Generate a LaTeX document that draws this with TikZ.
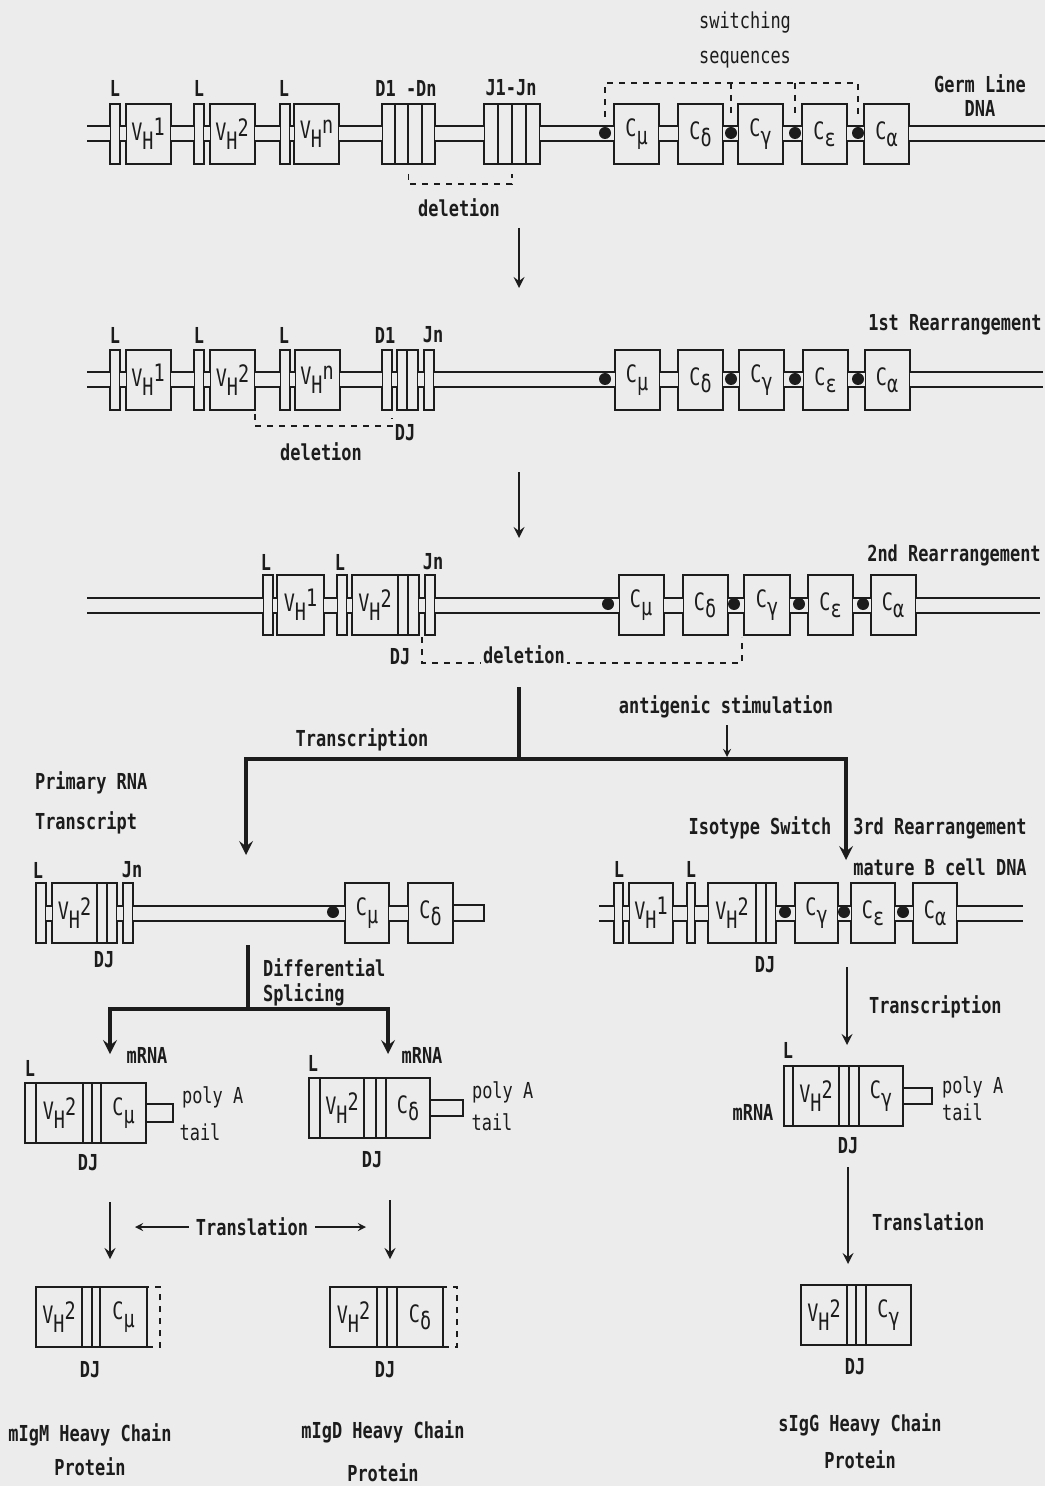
\documentclass[tikz,border=0pt]{standalone}
\usepackage{fontspec}
\setmainfont{DejaVu Sans Mono}[FakeStretch=0.77]
\usetikzlibrary{positioning}
\definecolor{paper}{HTML}{ECECEC}
\definecolor{ink}{HTML}{1C1C1C}
\newcommand{\vh}[1]{V\raisebox{-.7ex}{H}\raisebox{.35ex}{#1}}
\newcommand{\cs}[1]{C\raisebox{-.55ex}{#1}}

\begin{document}
\begin{tikzpicture}[
        x=0.5pt, y=-0.5pt,
        font=\fontsize{11}{12}\selectfont,
        seg/.style={draw=ink, text=ink, font=\fontsize{12}{13}\selectfont, line width=1pt, rectangle, inner sep=0pt, outer sep=0pt, minimum height=30pt, fill=paper},
        slab/.style={seg, minimum width=5pt},
        gene/.style={seg, minimum width=22.5pt},
        tail/.style={seg, minimum height=8pt},
        ext/.style={draw=ink, dashed, line width=1pt, inner sep=0pt, outer sep=0pt, minimum height=30pt},
        dna/.style={draw=ink, line width=1pt, double=paper, double distance=6.5pt},
        sw/.style={circle, fill=ink, inner sep=0pt, minimum size=6pt},
        brk/.style={draw=ink, dashed, line width=0.8pt},
        lab/.style={text=ink, font=\fontsize{11}{12}\selectfont\bfseries},
        txt/.style={text=ink},
        arrow/.style={-stealth, draw=ink, line width=1.4pt},
        branch/.style={draw=ink, line width=2pt},
        thinarrow/.style={-stealth, draw=ink, line width=0.8pt}
    ]
    \path[use as bounding box, fill=paper] (0,0) rectangle (1045,1486);

    % Germ line DNA
    \coordinate (g0) at (87,134);
    \node[slab] (gl1) at (115,134) {};
    \node[gene] (gv1) at (148,134) {\vh{1}};
    \node[slab] (gl2) at (199,134) {};
    \node[gene] (gv2) at (232,134) {\vh{2}};
    \node[slab] (gl3) at (284.5,134) {};
    \node[gene] (gvn) at (316.5,134) {\vh{n}};
    \node[seg, minimum width=6.6pt] (gd1) at (388.6,134) {};
    \node[seg, minimum width=6.6pt, right=0pt of gd1] (gd2) {};
    \node[seg, minimum width=6.6pt, right=0pt of gd2] (gd3) {};
    \node[seg, minimum width=6.6pt, right=0pt of gd3] (gd4) {};
    \node[seg, minimum width=7pt] (gj1) at (491,134) {};
    \node[seg, minimum width=7pt, right=0pt of gj1] (gj2) {};
    \node[seg, minimum width=7pt, right=0pt of gj2] (gj3) {};
    \node[seg, minimum width=7pt, right=0pt of gj3] (gj4) {};
    \node[gene] (gcm) at (636.5,134) {\cs{μ}};
    \node[gene] (gcd) at (700.5,134) {\cs{δ}};
    \node[gene] (gcg) at (760.5,134) {\cs{γ}};
    \node[gene] (gce) at (824.5,134) {\cs{ε}};
    \node[gene] (gca) at (886.5,134) {\cs{α}};
    \coordinate (g9) at (1045,134);
    \draw[dna] (g0) -- (gl1) (gl1) -- (gv1) (gv1) -- (gl2) (gl2) -- (gv2) (gv2) -- (gl3) (gl3) -- (gvn) (gvn) -- (gd1)
        (gd4) -- (gj1) (gj4) -- (gcm) (gcm) -- (gcd) (gcd) -- (gcg) (gcg) -- (gce) (gce) -- (gca) (gca) -- (g9);
    \node[sw] (gs1) at (605,133) {};
    \node[sw] (gs2) at (731,133) {};
    \node[sw] (gs3) at (795,133) {};
    \node[sw] (gs4) at (858,133) {};

    \node[lab] (gtl1) at (115,88) {L};
    \node[lab] (gtl2) at (199,88) {L};
    \node[lab] (gtl3) at (284,88) {L};
    \node[lab] (gtd) at (406,88) {D1 -Dn};
    \node[lab] (gtj) at (511,88) {J1-Jn};
    \node[txt, align=center, font=\fontsize{11}{17.5}\selectfont] (gsw) at (745,40) {switching\\sequences};
    \node[lab, align=center] (gtg) at (980,96) {Germ Line\\DNA};
    \draw[brk] ([yshift=8pt]gs1.center) -- ([yshift=25pt]gs1.center) -| ([yshift=8pt]gs4.center);
    \draw[brk] ([yshift=25pt]gs2.center) -- ([yshift=8pt]gs2.center);
    \draw[brk] ([yshift=25pt]gs3.center) -- ([yshift=8pt]gs3.center);
    \draw[brk] ([yshift=-5pt]gd2.south east) -- ([yshift=-10pt]gd2.south east) -| ([yshift=-5pt]gj2.south east);
    \node[lab] (gdel) at (459,208) {deletion};

    \coordinate (a1s) at (519,228);
    \coordinate (a1e) at (519,288);
    \draw[arrow] (a1s) -- (a1e);

    % 1st rearrangement
    \coordinate (r0) at (87,380);
    \node[slab] (rl1) at (115,380) {};
    \node[gene] (rv1) at (148,380) {\vh{1}};
    \node[slab] (rl2) at (199,380) {};
    \node[gene] (rv2) at (232.5,380) {\vh{2}};
    \node[slab] (rl3) at (284.5,380) {};
    \node[gene] (rvn) at (317,380) {\vh{n}};
    \node[slab] (rd1) at (387,380) {};
    \node[slab] (rdj1) at (402,380) {};
    \node[seg, minimum width=5.5pt, right=0pt of rdj1] (rdj2) {};
    \node[slab] (rjn) at (428.5,380) {};
    \node[gene] (rcm) at (637,380) {\cs{μ}};
    \node[gene] (rcd) at (700.5,380) {\cs{δ}};
    \node[gene] (rcg) at (761.5,380) {\cs{γ}};
    \node[gene] (rce) at (825.5,380) {\cs{ε}};
    \node[gene] (rca) at (887,380) {\cs{α}};
    \coordinate (r9) at (1043,380);
    \draw[dna] (r0) -- (rl1) (rl1) -- (rv1) (rv1) -- (rl2) (rl2) -- (rv2) (rv2) -- (rl3) (rl3) -- (rvn) (rvn) -- (rd1)
        (rd1) -- (rdj1) (rdj2) -- (rjn) (rjn) -- (rcm) (rcm) -- (rcd) (rcd) -- (rcg) (rcg) -- (rce) (rce) -- (rca) (rca) -- (r9);
    \node[sw] (rs1) at (605,379) {};
    \node[sw] (rs2) at (731,379) {};
    \node[sw] (rs3) at (795,379) {};
    \node[sw] (rs4) at (858,379) {};

    \node[lab] (rtl1) at (115,335) {L};
    \node[lab] (rtl2) at (199,335) {L};
    \node[lab] (rtl3) at (284,335) {L};
    \node[lab] (rtd) at (385,335) {D1};
    \node[lab] (rtj) at (433,335) {Jn};
    \node[lab] (rtdj) at (405,433) {DJ};
    \node[lab] (rtr) at (955,325) {1st Rearrangement};
    \draw[brk] ([yshift=-2pt]rv2.south east) -- ([yshift=-8pt]rv2.south east) -| ([yshift=-4pt]rd1.south east);
    \node[lab] (rdel) at (321,452) {deletion};

    \coordinate (a2s) at (519,472);
    \coordinate (a2e) at (519,538);
    \draw[arrow] (a2s) -- (a2e);

    % 2nd rearrangement
    \coordinate (s0) at (87,605);
    \node[slab] (sl1) at (268,605) {};
    \node[seg, minimum width=23.5pt] (sv1) at (300.5,605) {\vh{1}};
    \node[slab] (sl2) at (342,605) {};
    \node[seg, minimum width=23pt] (sv2) at (375,605) {\vh{2}};
    \node[slab, right=0pt of sv2] (sd) {};
    \node[seg, minimum width=5.5pt, right=0pt of sd] (sj) {};
    \node[slab] (sjn) at (430,605) {};
    \node[gene] (scm) at (641,605) {\cs{μ}};
    \node[gene] (scd) at (705,605) {\cs{δ}};
    \node[seg, minimum width=23pt] (scg) at (767,605) {\cs{γ}};
    \node[gene] (sce) at (830.5,605) {\cs{ε}};
    \node[gene] (sca) at (893,605) {\cs{α}};
    \coordinate (s9) at (1040,605);
    \draw[dna] (s0) -- (sl1) (sl1) -- (sv1) (sv1) -- (sl2) (sl2) -- (sv2) (sj) -- (sjn) (sjn) -- (scm)
        (scm) -- (scd) (scd) -- (scg) (scg) -- (sce) (sce) -- (sca) (sca) -- (s9);
    \node[sw] (ss1) at (608,604) {};
    \node[sw] (ss2) at (734,604) {};
    \node[sw] (ss3) at (799,604) {};
    \node[sw] (ss4) at (863,604) {};

    \node[lab] (stl1) at (266,562) {L};
    \node[lab] (stl2) at (340,562) {L};
    \node[lab] (stj) at (433,562) {Jn};
    \node[lab] (stdj) at (400,657) {DJ};
    \node[lab] (str) at (954,555) {2nd Rearrangement};
    \draw[brk] ([xshift=1.5pt,yshift=-1pt]sj.south east) -- ([xshift=1.5pt,yshift=-14pt]sj.south east) -| ([xshift=-1pt,yshift=-1pt]scg.south west);
    \node[lab, fill=paper, inner sep=1pt] (sdel) at (524,655) {deletion};

    % Transcription / isotype switch
    \coordinate (b0) at (519,687);
    \coordinate (bm) at (519,759);
    \coordinate (bl) at (246,855);
    \coordinate (br) at (846,860);
    \draw[branch] (b0) -- (bm);
    \draw[branch, -stealth] (bm) -| (bl);
    \draw[branch, -stealth] (bm) -| (br);
    \node[lab] (btr) at (362,740) {Transcription};
    \node[lab] (bag) at (726,707) {antigenic stimulation};
    \coordinate (bage) at (727,757);
    \draw[thinarrow] (bag.south -| bage) -- (bage);

    % Primary RNA transcript
    \node[lab, anchor=west, align=left, font=\fontsize{11}{20}\selectfont\bfseries] (ptt) at (28,803) {Primary RNA\\Transcript};
    \node[slab] (pl) at (41,913) {};
    \node[gene] (pv) at (74.5,913) {\vh{2}};
    \node[slab, right=0pt of pv] (pd) {};
    \node[slab, right=0pt of pd] (pj) {};
    \node[slab] (pjn) at (128,913) {};
    \node[seg, minimum width=22pt] (pcm) at (367,913) {\cs{μ}};
    \node[gene] (pcd) at (430.5,913) {\cs{δ}};
    \node[tail, minimum width=15.5pt, right=0pt of pcd] (ptl) {};
    \draw[dna] (pl) -- (pv) (pj) -- (pjn) (pjn) -- (pcm) (pcm) -- (pcd);
    \node[sw] (ps1) at (333,912) {};
    \node[lab] (ptl1) at (38,870) {L};
    \node[lab] (ptj) at (132,870) {Jn};
    \node[lab] (ptdj) at (104,960) {DJ};

    % Differential splicing
    \coordinate (d0) at (248,945);
    \coordinate (dm) at (248,1009);
    \coordinate (dl) at (110,1054);
    \coordinate (dr) at (388,1054);
    \draw[branch] (d0) -- (dm);
    \draw[branch, -stealth] (dm) -| (dl);
    \draw[branch, -stealth] (dm) -| (dr);
    \node[lab, anchor=west, align=left, font=\fontsize{11}{12.5}\selectfont\bfseries] (dsp) at (256,982) {Differential\\Splicing};
    \node[lab] (dml) at (147,1055) {mRNA};
    \node[lab] (dmr) at (422,1055) {mRNA};

    % mRNA (mu)
    \node[seg, minimum width=5.5pt] (ml) at (30.5,1113) {};
    \node[seg, minimum width=23.5pt, right=0pt of ml] (mv) {\vh{2}};
    \node[seg, minimum width=4.5pt, right=0pt of mv] (md) {};
    \node[seg, minimum width=4.5pt, right=0pt of md] (mj) {};
    \node[gene, right=0pt of mj] (mc) {\cs{μ}};
    \node[tail, minimum width=13.5pt, minimum height=9pt, right=0pt of mc] (mt) {};
    \node[lab] (mtl) at (30,1068) {L};
    \node[txt, anchor=west] (mpa) at (175,1097) {poly A};
    \node[txt] (mta) at (200,1132) {tail};
    \node[lab] (mdj) at (88,1163) {DJ};

    % mRNA (delta)
    \node[seg, minimum width=5.5pt] (nl) at (314.5,1108) {};
    \node[seg, minimum width=22pt, right=0pt of nl] (nv) {\vh{2}};
    \node[seg, minimum width=6pt, right=0pt of nv] (nd) {};
    \node[slab, right=0pt of nd] (nj) {};
    \node[seg, minimum width=22pt, right=0pt of nj] (nc) {\cs{δ}};
    \node[tail, minimum width=16.5pt, right=0pt of nc] (nt) {};
    \node[lab] (ntl) at (313,1063) {L};
    \node[txt, anchor=west] (npa) at (465,1092) {poly A};
    \node[txt] (nta) at (492,1122) {tail};
    \node[lab] (ndj) at (372,1160) {DJ};

    % Translation (membrane forms)
    \coordinate (t1s) at (110,1202);
    \coordinate (t1e) at (110,1259);
    \coordinate (t2s) at (390,1200);
    \coordinate (t2e) at (390,1259);
    \draw[arrow] (t1s) -- (t1e);
    \draw[arrow] (t2s) -- (t2e);
    \node[lab] (ttr) at (252,1227) {Translation};
    \coordinate (tla) at (135,1227);
    \coordinate (tra) at (366,1227);
    \draw[thinarrow] (ttr.west) -- (tla);
    \draw[thinarrow] (ttr.east) -- (tra);

    % mIgM protein
    \node[seg, minimum width=23pt] (qv) at (59,1317) {\vh{2}};
    \node[slab, right=0pt of qv] (qd) {};
    \node[seg, minimum width=4pt, right=0pt of qd] (qj) {};
    \node[seg, minimum width=23.5pt, right=0pt of qj] (qc) {\cs{μ}};
    \node[ext, minimum width=6.5pt, right=0pt of qc] (qx) {};
    \node[lab] (qdj) at (90,1370) {DJ};
    \node[lab, align=center, font=\fontsize{11}{17}\selectfont\bfseries] (qtt) at (90,1450) {mIgM Heavy Chain\\Protein};

    % mIgD protein
    \node[seg, minimum width=23.5pt] (ov) at (353.5,1317) {\vh{2}};
    \node[slab, right=0pt of ov] (od) {};
    \node[slab, right=0pt of od] (oj) {};
    \node[seg, minimum width=23pt, right=0pt of oj] (oc) {\cs{δ}};
    \node[ext, minimum width=7pt, right=0pt of oc] (ox) {};
    \node[lab] (odj) at (385,1370) {DJ};
    \node[lab, align=center, font=\fontsize{11}{21.5}\selectfont\bfseries] (ott) at (383,1451) {mIgD Heavy Chain\\Protein};

    % Mature B cell DNA
    \coordinate (h0) at (599,913);
    \node[seg, minimum width=4.5pt] (hl1) at (618.5,913) {};
    \node[seg, minimum width=22pt] (hv1) at (651,913) {\vh{1}};
    \node[seg, minimum width=4pt] (hl2) at (691,913) {};
    \node[seg, minimum width=24pt] (hv2) at (732,913) {\vh{2}};
    \node[slab, right=0pt of hv2] (hd) {};
    \node[slab, right=0pt of hd] (hj) {};
    \node[seg, minimum width=21.5pt] (hcg) at (816.5,913) {\cs{γ}};
    \node[seg, minimum width=22pt] (hce) at (873,913) {\cs{ε}};
    \node[seg, minimum width=22pt] (hca) at (935,913) {\cs{α}};
    \coordinate (h9) at (1023,913);
    \draw[dna] (h0) -- (hl1) (hl1) -- (hv1) (hv1) -- (hl2) (hl2) -- (hv2) (hj) -- (hcg) (hcg) -- (hce) (hce) -- (hca) (hca) -- (h9);
    \node[sw] (hs1) at (785,912) {};
    \node[sw] (hs2) at (844,912) {};
    \node[sw] (hs3) at (903,912) {};
    \node[lab] (htl1) at (619,869) {L};
    \node[lab] (htl2) at (691,869) {L};
    \node[lab] (hdj) at (765,965) {DJ};
    \node[lab] (hiso) at (760,828) {Isotype Switch};
    \node[lab] (h3r) at (940,828) {3rd Rearrangement};
    \node[lab] (hmb) at (940,867) {mature B cell DNA};

    % Transcription (secreted form)
    \coordinate (u0) at (847,967);
    \coordinate (u1) at (847,1045);
    \draw[arrow] (u0) -- (u1);
    \node[lab, anchor=west] (utr) at (862,1007) {Transcription};
    \node[seg, minimum width=4.5pt] (ul) at (788.5,1096) {};
    \node[seg, minimum width=23pt, right=0pt of ul] (uv) {\vh{2}};
    \node[slab, right=0pt of uv] (ud) {};
    \node[slab, right=0pt of ud] (uj) {};
    \node[seg, minimum width=22pt, right=0pt of uj] (uc) {\cs{γ}};
    \node[tail, minimum width=14.5pt, right=0pt of uc] (ut) {};
    \node[lab] (utl) at (788,1050) {L};
    \node[lab] (uml) at (753,1112) {mRNA};
    \node[txt, anchor=west] (upa) at (935,1087) {poly A};
    \node[txt, anchor=west] (uta) at (935,1112) {tail};
    \node[lab] (udj) at (848,1146) {DJ};

    % Translation (secreted form)
    \coordinate (w0) at (848,1167);
    \coordinate (w1) at (848,1264);
    \draw[arrow] (w0) -- (w1);
    \node[lab, anchor=west] (wtr) at (865,1222) {Translation};
    \node[seg, minimum width=23pt] (wv) at (824,1315) {\vh{2}};
    \node[seg, minimum width=4.5pt, right=0pt of wv] (wd) {};
    \node[slab, right=0pt of wd] (wj) {};
    \node[seg, minimum width=22.5pt, right=0pt of wj] (wc) {\cs{γ}};
    \node[lab] (wdj) at (855,1367) {DJ};
    \node[lab, align=center, font=\fontsize{11}{18.5}\selectfont\bfseries] (wtt) at (860,1441) {sIgG Heavy Chain\\Protein};

\end{tikzpicture}
\end{document}
